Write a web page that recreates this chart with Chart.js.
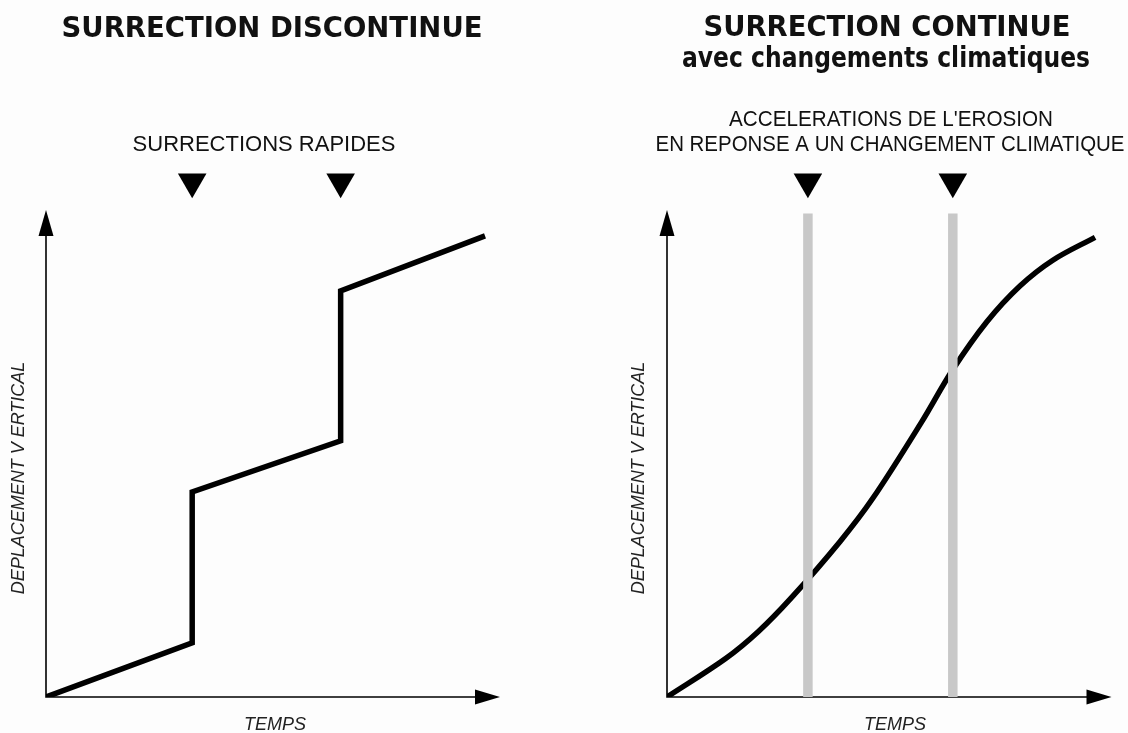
<!DOCTYPE html>
<html>
<head>
<meta charset="utf-8">
<script src="https://cdn.jsdelivr.net/npm/chart.js@4.4.0/dist/chart.umd.min.js"></script>
<style>
  body { margin: 0; background: #fdfdfd; }
  #wrap { position: relative; width: 1128px; height: 733px; }
  canvas { position: absolute; top: 0; }
</style>
</head>
<body>
<div id="wrap">
  <canvas id="discontinue" width="564" height="733" style="left:0"></canvas>
  <canvas id="continue" width="564" height="733" style="left:564px"></canvas>
</div>
<script>
// left panel : uplift by sudden steps (time, vertical displacement)
var stepTime = [0, 32.2, 32.2, 64.9, 64.9, 96.7];
var stepUplift = [0, 11.1, 42.1, 52.6, 83.4, 94.7];
var rapidUplifts = [32.2, 64.9];

// right panel : continuous uplift with climate driven erosion pulses
var curveTime = [0, 13.2, 20.5, 27.9, 38.9, 46.3, 57.3, 64.2, 72.0, 79.4, 86.8, 96.3];
var curveUplift = [0, 7.9, 13.4, 20.3, 31.9, 40.8, 56.5, 67.1, 77.1, 84.4, 89.7, 94.4];
var climateShifts = [31.7, 64.3];
var shiftTop = 99.3;

// height of the marker triangles above the axes
var markerLevel = 105.8;

function pairs(xs, ys) {
  return xs.map(function(v, i) { return {x: v, y: ys[i]}; });
}

function markers(xs) {
  return xs.map(function(v) { return {x: v, y: markerLevel}; });
}

var markerSet = function(xs) {
  return {
    data: markers(xs),
    showLine: false,
    pointStyle: 'triangle',
    pointRotation: 180,
    pointRadius: 16.5,
    pointBackgroundColor: '#000',
    pointBorderWidth: 0
  };
};

// axes drawn as arrows
var arrowAxes = {
  id: 'arrowAxes',
  beforeDatasetsDraw: function(chart) {
    var ctx = chart.ctx;
    var x = chart.scales.x, y = chart.scales.y;
    var x0 = x.getPixelForValue(0), y0 = y.getPixelForValue(0);
    var xEnd = x.getPixelForValue(100), yEnd = y.getPixelForValue(100);
    ctx.save();
    ctx.strokeStyle = '#000';
    ctx.fillStyle = '#000';
    ctx.lineWidth = 1.6;
    ctx.beginPath();
    ctx.moveTo(x0, yEnd + 20);
    ctx.lineTo(x0, y0);
    ctx.lineTo(xEnd - 20, y0);
    ctx.stroke();
    ctx.beginPath();
    ctx.moveTo(x0, yEnd);
    ctx.lineTo(x0 - 7.5, yEnd + 26);
    ctx.lineTo(x0 + 7.5, yEnd + 26);
    ctx.closePath();
    ctx.fill();
    ctx.beginPath();
    ctx.moveTo(xEnd, y0);
    ctx.lineTo(xEnd - 25, y0 - 7.5);
    ctx.lineTo(xEnd - 25, y0 + 7.5);
    ctx.closePath();
    ctx.fill();
    ctx.restore();
  }
};

// titles, notes and axis labels
var panelText = {
  id: 'panelText',
  afterDraw: function(chart, args, opts) {
    var ctx = chart.ctx;
    ctx.save();
    ctx.fillStyle = '#111';
    ctx.textAlign = 'center';
    ctx.textBaseline = 'alphabetic';
    opts.lines.forEach(function(l) {
      ctx.font = l.font;
      ctx.fillText(l.text, l.x, l.y, l.maxWidth);
    });
    ctx.font = 'italic 18px "Liberation Sans", Arial, sans-serif';
    ctx.fillStyle = '#222';
    ctx.fillText('TEMPS', opts.xLabelX, 730);
    ctx.translate(opts.yLabelX, 478);
    ctx.rotate(-Math.PI / 2);
    ctx.textBaseline = 'middle';
    ctx.fillText('DEPLACEMENT V ERTICAL', 0, 0, 247);
    ctx.restore();
  }
};

var titleFont = 'bold 29px "DejaVu Sans", sans-serif';
var noteFont = '22px "Liberation Sans", Arial, sans-serif';

function baseOptions(padLeft, padRight, textOpts) {
  return {
    responsive: false,
    animation: false,
    events: [],
    layout: { padding: { left: padLeft, right: padRight, top: 137, bottom: 36 } },
    scales: {
      x: { type: 'linear', min: 0, max: 100, display: false },
      y: { type: 'linear', min: 0, max: 115, display: false }
    },
    plugins: {
      legend: { display: false },
      tooltip: { enabled: false },
      panelText: textOpts
    }
  };
}

new Chart(document.getElementById('discontinue'), {
  type: 'line',
  data: {
    datasets: [
      markerSet(rapidUplifts),
      {
        data: pairs(stepTime, stepUplift),
        borderColor: '#000',
        borderWidth: 5.5,
        borderJoinStyle: 'miter',
        pointRadius: 0,
        tension: 0
      }
    ]
  },
  options: baseOptions(46, 64, {
    lines: [
      { text: 'SURRECTION DISCONTINUE', font: titleFont, x: 272, y: 37, maxWidth: 421 },
      { text: 'SURRECTIONS RAPIDES', font: noteFont, x: 264, y: 151, maxWidth: 265 }
    ],
    xLabelX: 275,
    yLabelX: 19
  }),
  plugins: [arrowAxes, panelText]
});

var shiftSets = climateShifts.map(function(s) {
  return {
    data: [{x: s, y: 0}, {x: s, y: shiftTop}],
    borderColor: '#c8c8c8',
    borderWidth: 9.5,
    borderCapStyle: 'butt',
    pointRadius: 0
  };
});

new Chart(document.getElementById('continue'), {
  type: 'line',
  data: {
    datasets: shiftSets.concat([
      markerSet(climateShifts),
      {
        data: pairs(curveTime, curveUplift),
        borderColor: '#000',
        borderWidth: 5.5,
        pointRadius: 0,
        tension: 0.35
      }
    ])
  },
  options: baseOptions(103, 8, {
    lines: [
      { text: 'SURRECTION CONTINUE', font: titleFont, x: 323, y: 36, maxWidth: 367 },
      { text: 'avec changements climatiques', font: titleFont, x: 322, y: 67, maxWidth: 408 },
      { text: "ACCELERATIONS DE L'EROSION", font: noteFont, x: 327, y: 126, maxWidth: 324 },
      { text: 'EN REPONSE A UN CHANGEMENT CLIMATIQUE', font: noteFont, x: 326, y: 151, maxWidth: 469 }
    ],
    xLabelX: 331,
    yLabelX: 75
  }),
  plugins: [arrowAxes, panelText]
});
</script>
</body>
</html>
